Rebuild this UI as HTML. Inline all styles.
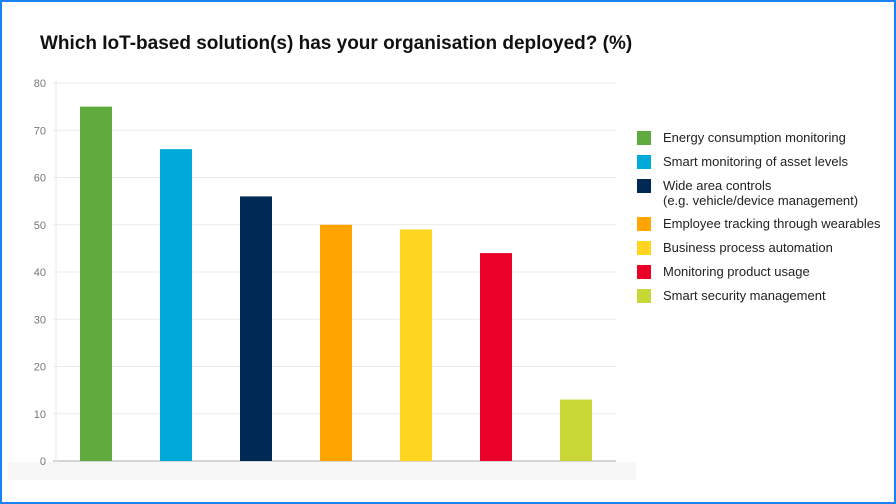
<!DOCTYPE html>
<html><head><meta charset="utf-8"><style>
body{margin:0;width:896px;height:504px;overflow:hidden;background:#fff;font-family:"Liberation Sans",sans-serif}
#frame{position:absolute;left:0;top:0;width:892px;height:500px;border:2px solid #1a82f0}
#title{position:absolute;left:40px;top:33px;font-size:19px;font-weight:bold;color:#111}
.leg{position:absolute;left:637px;font-size:13px;color:#222;line-height:15px}
.leg span{position:absolute;left:0;top:1px;width:14px;height:14px}
.leg div{margin-left:26px;white-space:nowrap}
</style></head><body>
<div id="frame"></div>
<div id="title">Which IoT-based solution(s) has your organisation deployed? (%)</div>
<svg id="chart" width="896" height="504" style="position:absolute;left:0;top:0"></svg>
<div id="legend"></div>
<script>
const categories=["Energy consumption monitoring","Smart monitoring of asset levels","Wide area controls<br>(e.g. vehicle/device management)","Employee tracking through wearables","Business process automation","Monitoring product usage","Smart security management"];
const values=[75,66,56,50,49,44,13];
const colors=["#5fab3d","#00aad8","#002a54","#ffa400","#ffd61f","#ea0029","#c8d735"];
const ticks=[0,10,20,30,40,50,60,70,80];
const legendTops=[130,154,178,216,240,264,288];
const NS="http://www.w3.org/2000/svg";
const svg=document.getElementById('chart');
const x0=56,step=80,bw=32,yBase=461,yTop=83,yMax=80;
const y=v=>yBase-(v/yMax)*(yBase-yTop);
const xc=i=>x0+step*(i+0.5);
function mk(t,a){const e=document.createElementNS(NS,t);for(const k in a)e.setAttribute(k,a[k]);svg.appendChild(e);return e;}
const bg=mk('rect',{x:8,y:462,width:628,height:18,fill:'#f7f7f7'});


ticks.forEach(t=>{
 const l=mk('line',{x1:x0-3,x2:616,y1:y(t),y2:y(t),stroke:t===0?'#d4d4d4':'#ebebeb','stroke-width':t===0?2:1});
 
 
 const tx=mk('text',{x:46,y:y(t)+4,'text-anchor':'end','font-size':11,fill:'#777','font-family':'Liberation Sans, sans-serif'});
 tx.textContent=t;
 
 
});
const ax=mk('line',{x1:x0,x2:x0,y1:80,y2:466,stroke:'#ebebeb'});


values.forEach((v,i)=>{
 const r=mk('rect',{x:xc(i)-bw/2,y:y(v),width:bw,height:yBase-y(v),fill:colors[i]});
 
 
});
const lg=document.getElementById('legend');
categories.forEach((c,i)=>{
 const d=document.createElement('div');d.className='leg';d.style.top=legendTops[i]+'px';
 d.innerHTML='<span style="background:'+colors[i]+'"></span><div>'+c+'</div>';
 
 
 lg.appendChild(d);
});
</script>
</body></html>
